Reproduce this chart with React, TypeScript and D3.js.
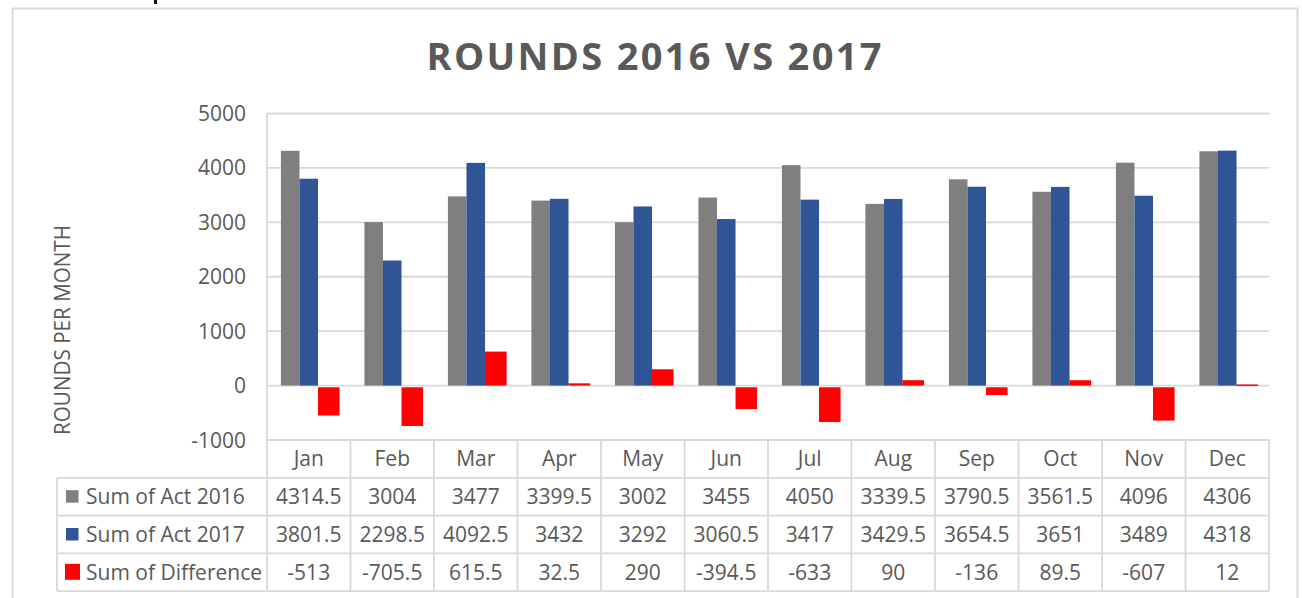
import React from "react";
import * as d3 from "d3";

const months = ["Jan", "Feb", "Mar", "Apr", "May", "Jun", "Jul", "Aug", "Sep", "Oct", "Nov", "Dec"];
const act2016 = [4314.5, 3004, 3477, 3399.5, 3002, 3455, 4050, 3339.5, 3790.5, 3561.5, 4096, 4306];
const act2017 = [3801.5, 2298.5, 4092.5, 3432, 3292, 3060.5, 3417, 3429.5, 3654.5, 3651, 3489, 4318];
const difference = [-513, -705.5, 615.5, 32.5, 290, -394.5, -633, 90, -136, 89.5, -607, 12];
const seriesNames = ["Sum of Act 2016", "Sum of Act 2017", "Sum of Difference"];
const seriesColors = ["#7f7f7f", "#2f5597", "#ff0000"];
const yTicks = [-1000, 0, 1000, 2000, 3000, 4000, 5000];
const title = "ROUNDS 2016 VS 2017";
const yTitle = "ROUNDS PER MONTH";

const W = 1302;
const H = 598;
const plotL = 267;
const plotR = 1269;
const plotT = 113.5;
const plotB = 440;
const tableL = 57;
const rowH = 37.8;
const FONT = "'Open Sans', 'Noto Sans', sans-serif";
const TXT = "#595959";
const GRID = "#d9d9d9";

export default function App() {
  const series = [act2016, act2017, difference];
  const x = d3.scaleBand<string>().domain(months).range([plotL, plotR]).padding(0);
  const x1 = d3
    .scaleBand<string>()
    .domain(seriesNames)
    .range([0, x.bandwidth()])
    .paddingInner(0)
    .paddingOuter(0.75);
  const y = d3.scaleLinear().domain([-1000, 5000]).range([plotB, plotT]);
  const y0 = y(0);
  const rowY = (i: number) => plotB + rowH * i; // 0 = category row top
  const tableB = rowY(4);

  return (
    <svg
      width={W}
      height={H}
      style={{ position: "absolute", left: 0, top: 0, background: "#fff" }}
      fontFamily={FONT}
    >
      <rect x={0} y={0} width={W} height={H} fill="#fff" />
      <rect x={154} y={0} width={3} height={4} fill="#111" />
      <rect x={12.5} y={8.5} width={1285} height={620} fill="none" stroke={GRID} strokeWidth={2} />

      {/* title */}
      <text
        x={654}
        y={70}
        textAnchor="middle"
        fontSize={38}
        fontWeight={700}
        fill={TXT}
        textLength={455}
        lengthAdjust="spacing"
      >
        {title}
      </text>

      {/* y axis title */}
      <text
        transform={`translate(70, 330) rotate(-90)`}
        textAnchor="middle"
        fontSize={21}
        fill={TXT}
        textLength={210}
        lengthAdjust="spacingAndGlyphs"
      >
        {yTitle}
      </text>

      {/* gridlines */}
      {yTicks.map((t) => (
        <line key={"g" + t} x1={plotL} x2={plotR} y1={y(t)} y2={y(t)} stroke={GRID} strokeWidth={1.8} />
      ))}
      {yTicks.map((t) => (
        <text key={"t" + t} x={246} y={y(t)} dy="0.36em" textAnchor="end" fontSize={21} fill={TXT}>
          {t}
        </text>
      ))}

      {/* bars */}
      {series.map((vals, si) =>
        vals.map((v, i) => {
          const bx = (x(months[i]) as number) + (x1(seriesNames[si]) as number);
          const bw = x1.bandwidth();
          const isRed = si === 2;
          if (!isRed) {
            return (
              <rect
                key={`b${si}-${i}`}
                x={bx}
                y={Math.min(y(v), y0)}
                width={bw}
                height={Math.abs(y(v) - y0)}
                fill={seriesColors[si]}
              />
            );
          }
          const neg = v < 0;
          const top = neg ? y0 + 1.7 : y(v) - 0.5;
          const bottom = neg ? y(v) + 2 : y0;
          return (
            <rect
              key={`b${si}-${i}`}
              x={bx}
              y={top}
              width={bw + 3}
              height={Math.max(bottom - top, 1.5)}
              fill={seriesColors[si]}
            />
          );
        })
      )}

      {/* table lines */}
      <line x1={plotL} x2={plotL} y1={plotT} y2={tableB} stroke={GRID} strokeWidth={1.8} />
      {[1, 2, 3, 4].map((r) => (
        <line key={"h" + r} x1={tableL} x2={plotR} y1={rowY(r)} y2={rowY(r)} stroke={GRID} strokeWidth={1.8} />
      ))}
      <line x1={tableL} x2={tableL} y1={rowY(1)} y2={tableB} stroke={GRID} strokeWidth={1.8} />
      {months.map((m) => (
        <line
          key={"v" + m}
          x1={(x(m) as number) + x.bandwidth()}
          x2={(x(m) as number) + x.bandwidth()}
          y1={plotB}
          y2={tableB}
          stroke={GRID}
          strokeWidth={1.8}
        />
      ))}

      {/* category labels */}
      {months.map((m) => (
        <text
          key={"c" + m}
          x={(x(m) as number) + x.bandwidth() / 2}
          y={rowY(0) + rowH / 2 + 7.5}
          textAnchor="middle"
          fontSize={21}
          fill={TXT}
        >
          {m}
        </text>
      ))}

      {/* series rows */}
      {series.map((vals, si) => {
        const cy = rowY(si + 1) + rowH / 2;
        const isRed = si === 2;
        return (
          <g key={"r" + si}>
            <rect
              x={isRed ? 65 : 66}
              y={isRed ? cy - 8.5 : cy - 6.5}
              width={isRed ? 15 : 12.5}
              height={isRed ? 16 : 12.5}
              fill={seriesColors[si]}
            />
            <text x={86} y={cy + 7.5} fontSize={21} fill={TXT}>
              {seriesNames[si]}
            </text>
            {vals.map((v, i) => (
              <text
                key={"v" + i}
                x={(x(months[i]) as number) + x.bandwidth() / 2}
                y={cy + 7.5}
                textAnchor="middle"
                fontSize={21}
                fill={TXT}
              >
                {v}
              </text>
            ))}
          </g>
        );
      })}
    </svg>
  );
}
